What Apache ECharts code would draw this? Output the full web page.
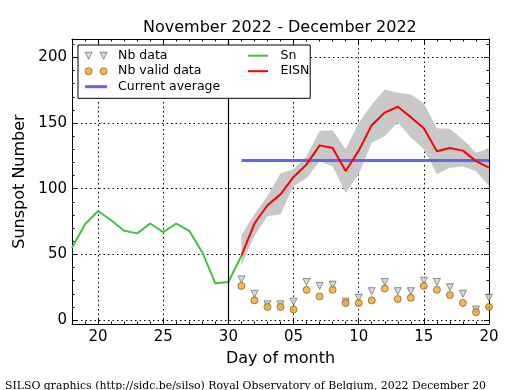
<!DOCTYPE html>
<html><head><meta charset="utf-8">
<script src="https://cdn.jsdelivr.net/npm/echarts@6/dist/echarts.min.js"></script>
<style>html,body{margin:0;padding:0;background:#fff}#c{width:515px;height:390px}</style>
</head><body><div id="c"></div>
<script>
// ---- data ----
const days = ['11-18','11-19','11-20','11-21','11-22','11-23','11-24','11-25','11-26','11-27','11-28','11-29','11-30',
  '12-01','12-02','12-03','12-04','12-05','12-06','12-07','12-08','12-09','12-10','12-11','12-12','12-13','12-14','12-15','12-16','12-17','12-18','12-19','12-20'];
const xTickDays = ['11-20','11-25','11-30','12-05','12-10','12-15','12-20'];
const yTicks = [0, 50, 100, 150, 200];
const snDays = days.slice(0, 14);
const sn = [55, 73, 83, 76, 68, 66, 73.5, 67, 73.5, 68, 51.5, 28, 29, 49];
const eisnDays = days.slice(13);
const eisn = [49, 73.5, 87.4, 95.7, 109, 118.5, 133, 131, 113.5, 129, 148.4, 158, 162.4, 154.5, 146, 128.6, 131, 129, 121, 116];
const eisnLow = [42, 64, 79, 80.5, 102, 108, 121, 117, 97, 111, 135, 140, 150.7, 139, 130, 111, 116, 117, 113.5, 102];
const eisnHigh = [65, 80.5, 94.5, 111.7, 114.7, 124.8, 144, 144.6, 130, 150, 164, 175.5, 173, 171.7, 165, 146, 145.6, 137.5, 127.4, 130.5];
const nbData = [31, 20, 12, 12, 14, 29, 26, 27, 14, 17, 22, 29, 22, 22, 30, 29, 25, 20, 8, 17];
const nbValid = [26, 15, 10, 10, 8, 23, 18, 23, 13, 13, 15, 24, 16, 17, 26, 23, 19, 13, 6, 10];
const currentAverage = 121.5;
const avgRange = ['12-01', '12-20'];
const vLineDay = '11-30';

// ---- chart ----
const FONT = 'DejaVu Sans';
const isMajor = (i, v) => xTickDays.includes(v);
const dotted = { color: '#000', width: 1, type: [1.5, 3] };
const pair = (ds, vs) => vs.map((v, i) => [ds[i], v]);

const chart = echarts.init(document.getElementById('c'), null, { renderer: 'canvas' });
const xBase = { type: 'category', data: days, boundaryGap: false, gridIndex: 0 };
const yBase = { type: 'value', min: -3, max: 214 };
chart.setOption({
  animation: false,
  title: [
    { text: 'November 2022 - December 2022', left: 138, top: 15, textStyle: { fontFamily: FONT, fontSize: 16, fontWeight: 'normal', color: '#000' } },
    { text: 'SILSO graphics (http://sidc.be/silso) Royal Observatory of Belgium, 2022 December 20', left: 0, top: 376, textStyle: { fontFamily: 'DejaVu Serif', fontSize: 10.9, fontWeight: 'normal', color: '#000' } }
  ],
  grid: { left: 72, right: 26, top: 39, bottom: 66 },
  legend: [
    {
      left: 78, top: 45, orient: 'vertical', padding: [3.7, 90, 4.6, 6.7], itemGap: 1.5,
      itemWidth: 22, itemHeight: 7, selectedMode: false, z: 10,
      backgroundColor: '#fff', borderColor: '#000', borderWidth: 1, borderRadius: 0,
      textStyle: { fontFamily: FONT, fontSize: 12.5, lineHeight: 14, color: '#000', padding: [0, 0, 0, 6] },
      data: [
        { name: 'Nb data', icon: 'path://M0,0L7,0L3.5,7Z M15,0L22,0L18.5,7Z', itemStyle: { color: '#cfcfcf', borderColor: '#555', borderWidth: 0.8 } },
        { name: 'Nb valid data', icon: 'path://M0,3.5A3.5,3.5,0,1,0,7,3.5A3.5,3.5,0,1,0,0,3.5Z M15,3.5A3.5,3.5,0,1,0,22,3.5A3.5,3.5,0,1,0,15,3.5Z', itemStyle: { color: '#f0a830', borderColor: '#6b4a00', borderWidth: 0.8 } },
        { name: 'Current average', icon: 'path://M0,2L22,2L22,5L0,5Z M0,0L0,0 M0,7L0,7', itemStyle: { color: '#6464f0', borderWidth: 0 } }
      ]
    },
    {
      left: 248, top: 48.7, orient: 'vertical', padding: 0, itemGap: 1.5,
      itemWidth: 20, itemHeight: 7, selectedMode: false, z: 11,
      textStyle: { fontFamily: FONT, fontSize: 12.5, lineHeight: 14, color: '#000', padding: [0, 0, 0, 7.5] },
      data: [
        { name: 'Sn', icon: 'path://M0,2.5L20,2.5L20,4.5L0,4.5Z M0,0L0,0 M0,7L0,7', itemStyle: { color: '#3fc43f', borderWidth: 0 } },
        { name: 'EISN', icon: 'path://M0,2.5L20,2.5L20,4.5L0,4.5Z M0,0L0,0 M0,7L0,7', itemStyle: { color: '#ff0000', borderWidth: 0 } }
      ]
    }
  ],
  xAxis: [
    Object.assign({}, xBase, {
      position: 'bottom',
      axisLine: { show: true, onZero: false, lineStyle: { color: '#000', width: 1 } },
      axisTick: { show: true, inside: true, length: 5, interval: isMajor, lineStyle: { color: '#000' } },
      axisLabel: { interval: isMajor, formatter: v => v.slice(3), fontFamily: FONT, fontSize: 15, color: '#000', margin: 6 },
      splitLine: { show: true, interval: isMajor, lineStyle: dotted },
      name: 'Day of month', nameLocation: 'middle', nameGap: 27,
      nameTextStyle: { fontFamily: FONT, fontSize: 16, color: '#000' }
    }),
    Object.assign({}, xBase, {
      position: 'bottom',
      axisLine: { show: false, onZero: false },
      axisTick: { show: true, inside: true, length: 2.5, interval: 0, lineStyle: { color: '#000' } },
      axisLabel: { show: false }, splitLine: { show: false }
    }),
    Object.assign({}, xBase, {
      position: 'top',
      axisLine: { show: true, onZero: false, lineStyle: { color: '#000', width: 1 } },
      axisTick: { show: true, inside: true, length: 5, interval: isMajor, lineStyle: { color: '#000' } },
      axisLabel: { show: false }, splitLine: { show: false }
    }),
    Object.assign({}, xBase, {
      position: 'top',
      axisLine: { show: false, onZero: false },
      axisTick: { show: true, inside: true, length: 2.5, interval: 0, lineStyle: { color: '#000' } },
      axisLabel: { show: false }, splitLine: { show: false }
    })
  ],
  yAxis: [
    Object.assign({}, yBase, {
      position: 'left', splitNumber: 4,
      axisLine: { show: true, lineStyle: { color: '#000', width: 1 } },
      axisTick: { show: true, inside: true, length: 5, lineStyle: { color: '#000' } },
      axisLabel: { formatter: v => yTicks.includes(v) ? String(v) : '', fontFamily: FONT, fontSize: 15, color: '#000', margin: 5 },
      splitLine: { show: true, lineStyle: dotted },
      name: 'Sunspot Number', nameLocation: 'middle', nameGap: 42,
      nameTextStyle: { fontFamily: FONT, fontSize: 16, color: '#000' }
    }),
    Object.assign({}, yBase, {
      position: 'left', splitNumber: 21,
      axisLine: { show: false },
      axisTick: { show: true, inside: true, length: 2.5, lineStyle: { color: '#000' } },
      axisLabel: { show: false }, splitLine: { show: false }
    }),
    Object.assign({}, yBase, {
      position: 'right', splitNumber: 4,
      axisLine: { show: true, lineStyle: { color: '#000', width: 1 } },
      axisTick: { show: true, inside: true, length: 5, lineStyle: { color: '#000' } },
      axisLabel: { show: false }, splitLine: { show: false }
    }),
    Object.assign({}, yBase, {
      position: 'right', splitNumber: 21,
      axisLine: { show: false },
      axisTick: { show: true, inside: true, length: 2.5, lineStyle: { color: '#000' } },
      axisLabel: { show: false }, splitLine: { show: false }
    })
  ],
  series: [
    { name: 'bandLow', type: 'line', stack: 'band', data: pair(eisnDays, eisnLow), symbol: 'none', silent: true,
      lineStyle: { width: 0, opacity: 0 }, z: 1 },
    { name: 'bandHigh', type: 'line', stack: 'band', data: pair(eisnDays, eisnHigh.map((v, i) => v - eisnLow[i])), symbol: 'none', silent: true,
      lineStyle: { width: 0, opacity: 0 }, areaStyle: { color: '#c8c8c8', opacity: 1 }, z: 1 },
    { name: 'Sn', type: 'line', data: pair(snDays, sn), symbol: 'none', itemStyle: { color: '#3fc43f' },
      lineStyle: { color: '#3fc43f', width: 2 }, z: 3,
      markLine: { silent: true, symbol: ['none', 'none'], label: { show: false },
        lineStyle: { color: '#000', width: 1.2, type: 'solid' }, data: [{ xAxis: vLineDay }] } },
    { name: 'Current average', type: 'line', data: [[avgRange[0], currentAverage], [avgRange[1], currentAverage]], symbol: 'none',
      itemStyle: { color: '#6464f0' }, lineStyle: { color: '#6464f0', width: 3 }, z: 3 },
    { name: 'EISN', type: 'line', data: pair(eisnDays, eisn), symbol: 'none', itemStyle: { color: '#ff0000' },
      lineStyle: { color: '#ff0000', width: 2 }, z: 4 },
    { name: 'Nb data', type: 'scatter', data: pair(eisnDays, nbData), symbol: 'triangle', symbolRotate: 180, symbolSize: 7,
      itemStyle: { color: '#cfcfcf', borderColor: '#555', borderWidth: 0.8 }, z: 5 },
    { name: 'Nb valid data', type: 'scatter', data: pair(eisnDays, nbValid), symbol: 'circle', symbolSize: 7,
      itemStyle: { color: '#f0a830', borderColor: '#6b4a00', borderWidth: 0.8 }, z: 6 }
  ]
});
</script></body></html>
